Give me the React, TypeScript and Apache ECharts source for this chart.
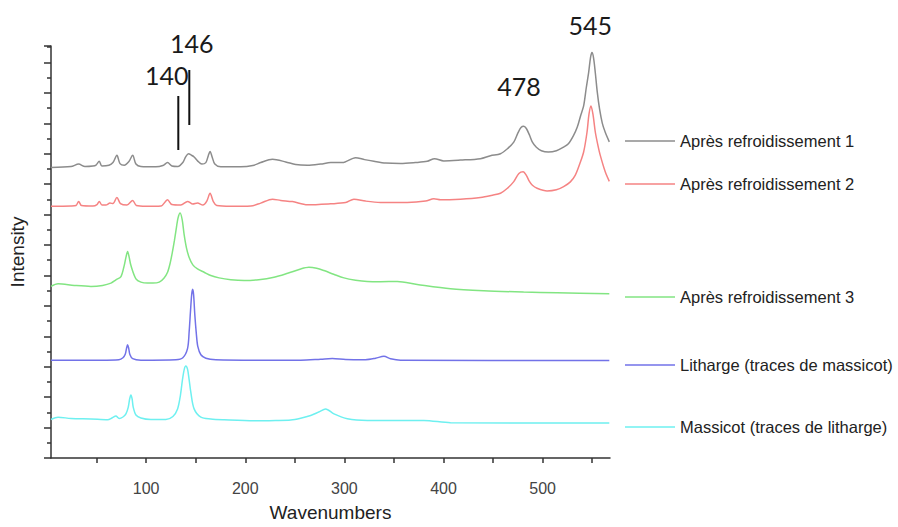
import React, { useEffect, useRef } from "react";
import * as echarts from "echarts";

// Wavenumber (cm-1) / intensity (a.u.) pairs
const apres1: [number, number][] = [
  [4, 294], [24.2, 295], [31.9, 297.5], [38.3, 295], [46.3, 295.5], [49.4, 296.5], [52.7, 300.3],
  [55.4, 295.5], [62.5, 296.3], [66.5, 299], [70.5, 306.3], [73.6, 298], [77.9, 296.3], [82.6, 300],
  [86.4, 306.3], [89.7, 297.5], [94.7, 295], [109.8, 294.7], [116.9, 296], [121.6, 299], [126, 295.5],
  [132, 295], [137, 299], [140, 305], [142.8, 308], [145.6, 306.5], [148.4, 304.7], [152.1, 300.5],
  [156.2, 297.5], [160.2, 299], [162.7, 306], [164.5, 310.3], [166.5, 305], [169.3, 297.5],
  [175.3, 294.7], [195.5, 294.7], [207.6, 296], [215.6, 299], [227.4, 302.3], [240.8, 299.7],
  [250.9, 297], [262.7, 296.3], [276.1, 297.5], [286.2, 299], [298, 299], [311.3, 304], [320.4, 302],
  [329.8, 300.3], [341.6, 298.5], [356.7, 298], [371.8, 299], [383.6, 300.3], [391, 303], [400.3, 300.7],
  [417.1, 301.5], [437.3, 303], [447.4, 306], [457.5, 308], [464.5, 313], [470.9, 319.7], [475.1, 329],
  [478.2, 334.5], [481, 335.7], [483.6, 333.5], [486.7, 327], [489.7, 319.7], [493.7, 314.5],
  [498.8, 311], [505.8, 309.7], [513.9, 311], [520.9, 314.5], [526, 318], [531, 326], [535, 335],
  [538.5, 347], [541.4, 356.3], [544.1, 375], [546.4, 389.7], [548.3, 405], [549.8, 410.3],
  [551.4, 405], [553.2, 389.7], [555.2, 370], [557.5, 353], [560.2, 339], [563.2, 329.7], [567.3, 320],
];

const apres2: [number, number][] = [
  [4, 254.7], [24.2, 255], [29.2, 255.5], [31.9, 259.7], [34.8, 255.5], [46.3, 255], [50.4, 256.5],
  [52.7, 259.7], [55.4, 256], [59.4, 256], [63.5, 258], [66.5, 257.5], [70.5, 263.7], [74.1, 257.5],
  [80.6, 256], [86.4, 260.7], [90.2, 255.5], [99.8, 254.7], [114.9, 255], [121.6, 261.3], [126, 256.5],
  [135, 256], [141.8, 259.7], [147.1, 257], [151.8, 258], [157.2, 256], [161.2, 260], [164.5, 268],
  [167.8, 259.5], [171.3, 255.5], [185.4, 254.7], [205.6, 255], [215.6, 258], [227.4, 262],
  [235.8, 260.7], [247.6, 259.5], [262.7, 256.3], [286.2, 257.3], [301.3, 258.5], [309.6, 262],
  [321.4, 260], [336.5, 258.7], [363.4, 258.7], [381.9, 260], [390.3, 262.3], [397, 261.3],
  [417.1, 262], [437.3, 263.7], [449.4, 266], [457.5, 268], [464.5, 273], [470.9, 279.7], [476.1, 288],
  [480.4, 289.7], [483.6, 286], [486.7, 280], [489.7, 276], [494.4, 273], [504.5, 270.3], [513.9, 271.5],
  [521.2, 274.7], [528, 279.5], [533, 286.3], [537.6, 298], [541.4, 309.7], [544.8, 329.7], [546.8, 348],
  [548.8, 356.3], [550.8, 348], [553.2, 329.7], [555.7, 317], [558.2, 306.3], [563.2, 289.7], [567.3, 280],
];

const apres3: [number, number][] = [
  [4, 173.7], [11.1, 176.3], [27.5, 174.7], [44.3, 173.7], [56.1, 174.7], [64.5, 177], [69.5, 180.3],
  [74.6, 183.7], [77.9, 195], [79.6, 203], [81.3, 209], [82.9, 203], [84.6, 195], [89.7, 181.3],
  [94.7, 178], [101.5, 177], [106.8, 177], [113.2, 178], [117.9, 182], [121.6, 188], [124.4, 198],
  [126.7, 209.7], [128.5, 220], [130, 229.7], [132.2, 243], [134.3, 248], [136.4, 241], [138.3, 226.3],
  [140.6, 213], [143.4, 203], [147.1, 195.5], [151.8, 191.3], [158.5, 188], [165.2, 184.7],
  [173.6, 182.3], [185.4, 180.5], [198.8, 179.7], [213.6, 180.5], [229, 183], [242.8, 187],
  [255.9, 191.3], [264.3, 193], [272, 192], [279.4, 189.7], [289.2, 186], [299.6, 182.3], [311.3, 180],
  [323.1, 178.7], [336.5, 178.5], [353.4, 178.7], [373.5, 175.7], [407.1, 171.3], [440.6, 169.3],
  [480.9, 168], [514.6, 167.3], [567.3, 166.3],
];

const litharge: [number, number][] = [
  [4, 99], [54.4, 99], [72.5, 99.5], [76.6, 101.5], [78.9, 105], [80.2, 111], [81.3, 114.7], [82.4, 111],
  [83.6, 104.7], [86.4, 100.5], [94.7, 99], [130, 99.5], [137, 101.5], [141.8, 111], [143.4, 128],
  [144.7, 148], [145.9, 165], [146.9, 170.7], [147.9, 165], [149.1, 145], [150.7, 125], [152.1, 113],
  [155.2, 104.5], [160.2, 101], [170.3, 99.5], [215.6, 99], [255.9, 99], [276.1, 100], [287.9, 100.7],
  [301.3, 99.7], [321.4, 99.5], [331.5, 101], [339.9, 103], [346.6, 100.5], [356.7, 99], [567.3, 98.7],
];

const massicot: [number, number][] = [
  [4, 39], [11.1, 41.3], [24.2, 40], [44.3, 39.5], [61.2, 38.7], [65.5, 40.5], [69.5, 42.5], [72.8, 40],
  [76.6, 41.5], [79.6, 44.7], [81.9, 51.3], [83.4, 60], [84.6, 63.7], [85.8, 60], [87, 51.3], [89.7, 43.5],
  [94.7, 40.5], [104.8, 39], [119.9, 39], [127, 42], [131.7, 49.7], [134.5, 63], [136.7, 79.7],
  [138.5, 90], [140, 93], [141.8, 89.7], [143.4, 79], [145.1, 66.3], [148.4, 49.7], [155.2, 41.3],
  [165.2, 39.5], [178.6, 38.7], [208.9, 37.7], [230.7, 38], [245.9, 38.5], [255.9, 40.3], [266, 43],
  [274.1, 46.5], [281.1, 49.7], [289.5, 44.7], [303, 39.7], [323.1, 38], [380.2, 38], [407.1, 35.7],
  [567.3, 35.3],
];

const seriesNames = [
  "Après refroidissement 1",
  "Après refroidissement 2",
  "Après refroidissement 3",
  "Litharge (traces de massicot)",
  "Massicot (traces de litharge)",
];
const seriesData = [apres1, apres2, apres3, litharge, massicot];
const seriesColors = ["#8c8c8c", "#f58383", "#82e582", "#7272e8", "#6ef0f0"];
const legendTops = [141, 184, 297, 365, 427];

const xTickValues = [50, 100, 150, 200, 250, 300, 350, 400, 450, 500, 550];
const xLabelValues = [100, 200, 300, 400, 500];

const peakLabels = ["140", "146", "478", "545"];

export default function App() {
  const ref = useRef<HTMLDivElement>(null);

  useEffect(() => {
    if (!ref.current) return;
    const chart = echarts.init(ref.current, null, { renderer: "svg" });
    const font = "'Liberation Sans', Arial, sans-serif";
    const axisColor = "#333";

    const annoText = (txt: string, x: number, y: number) => ({
      type: "text",
      x,
      y,
      style: {
        text: txt,
        font: "25px Lato, 'Open Sans', sans-serif",
        fill: "#1a1a1a",
        textAlign: "center",
        textVerticalAlign: "middle",
      },
    });
    const annoLine = (x: number, y1: number, y2: number) => ({
      type: "line",
      shape: { x1: x, y1, x2: x, y2 },
      style: { stroke: "#111", lineWidth: 2 },
    });

    chart.setOption({
      animation: false,
      backgroundColor: "#fff",
      textStyle: { fontFamily: font },
      grid: { left: 50, right: 288, top: 46, bottom: 64 },
      xAxis: {
        type: "value",
        min: 4,
        max: 568,
        name: "Wavenumbers",
        nameLocation: "middle",
        nameGap: 45,
        nameTextStyle: { fontSize: 19, color: "#222", fontFamily: font },
        splitLine: { show: false },
        axisLine: { show: true, lineStyle: { color: axisColor, width: 1.5 } },
        axisTick: {
          show: true,
          customValues: xTickValues,
          length: 5,
          lineStyle: { color: axisColor, width: 1.5 },
        },
        axisLabel: {
          customValues: xLabelValues,
          fontSize: 16,
          color: "#444",
          margin: 22,
          fontFamily: font,
        },
      },
      yAxis: {
        type: "value",
        min: 0,
        max: 417,
        interval: 30.8,
        name: "Intensity",
        nameLocation: "middle",
        nameGap: 24,
        nameTextStyle: { fontSize: 19, color: "#222", fontFamily: font },
        splitLine: { show: false },
        axisLine: { show: true, lineStyle: { color: axisColor, width: 1.5 } },
        axisTick: { show: true, length: 7, lineStyle: { color: axisColor, width: 1.5 } },
        minorTick: { show: true, splitNumber: 2, length: 4, lineStyle: { color: axisColor, width: 1.5 } },
        minorSplitLine: { show: false },
        axisLabel: { show: false },
      },
      legend: seriesNames.map((n, i) => ({
        data: [n],
        left: 625,
        top: legendTops[i] - 9,
        padding: 0,
        icon: "rect",
        itemWidth: 50,
        itemHeight: 1.5,
        selectedMode: false,
        textStyle: { fontSize: 16.5, lineHeight: 18, color: "#222", fontFamily: font },
      })),
      series: seriesNames.map((n, i) => ({
        name: n,
        type: "line",
        data: seriesData[i],
        showSymbol: false,
        symbol: "none",
        smooth: 0.3,
        color: seriesColors[i],
        lineStyle: { color: seriesColors[i], width: 1.5 },
      })),
      graphic: [
        annoText(peakLabels[0], 166.7, 75),
        annoText(peakLabels[1], 191.7, 42.5),
        annoText(peakLabels[2], 519, 86.3),
        annoText(peakLabels[3], 590.3, 25),
        annoLine(178.3, 96, 150),
        annoLine(189.3, 70, 125),
      ],
    });

    return () => chart.dispose();
  }, []);

  return (
    <div
      ref={ref}
      style={{ position: "fixed", left: 0, top: 0, width: 898, height: 527, background: "#fff" }}
    />
  );
}
